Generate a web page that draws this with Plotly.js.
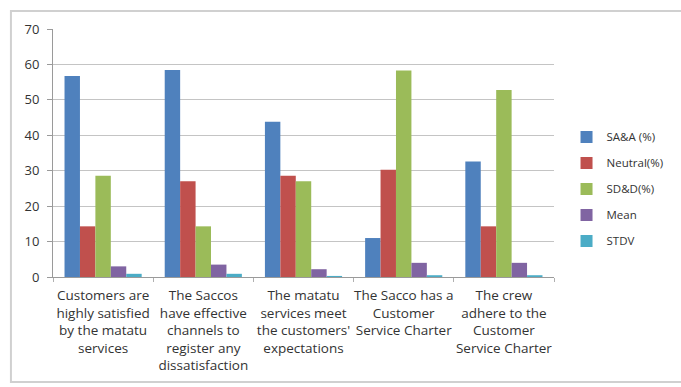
<!DOCTYPE html>
<html>
<head>
<meta charset="utf-8">
<script src="https://cdn.plot.ly/plotly-3.0.1.min.js"></script>
<style>
html,body{margin:0;padding:0;background:#fff;}
#chart{width:681px;height:387px;}
</style>
</head>
<body>
<div id="chart"></div>
<script>
const categories = [
  "Customers are<br>highly satisfied<br>by the matatu<br>services",
  "The Saccos<br>have effective<br>channels to<br>register any<br>dissatisfaction",
  "The matatu<br>services meet<br>the customers'<br>expectations",
  "The Sacco has a<br>Customer<br>Service Charter",
  "The crew<br>adhere to the<br>Customer<br>Service Charter"
];
const seriesNames = ["SA&A (%)", "Neutral(%)", "SD&D(%)", "Mean", "STDV"];
const saa = [56.7, 58.4, 43.8, 11.0, 32.6];
const neutral = [14.3, 27.0, 28.6, 30.3, 14.3];
const sdd = [28.6, 14.3, 27.0, 58.3, 52.8];
const mean = [3.0, 3.5, 2.2, 4.0, 4.0];
const stdv = [0.9, 0.9, 0.3, 0.5, 0.5];
const yTicks = [0, 10, 20, 30, 40, 50, 60, 70];

const colors = ["#4F81BD", "#C0504D", "#9BBB59", "#8064A2", "#4BACC6"];
const allSeries = [saa, neutral, sdd, mean, stdv];

const traces = allSeries.map((vals, i) => ({
  type: "bar",
  name: seriesNames[i],
  legendgroup: "g" + i,
  x: categories,
  y: vals,
  marker: {color: colors[i]},
  hoverinfo: "y+name"
}));

const layout = {
  width: 681,
  height: 387,
  margin: {l: 53, r: 116, t: 29, b: 110, pad: 0},
  paper_bgcolor: "#ffffff",
  plot_bgcolor: "#ffffff",
  barmode: "group",
  bargap: 0.23,
  bargroupgap: 0,
  font: {family: "Open Sans, Noto Sans, sans-serif", size: 12, color: "#333"},
  showlegend: true,
  legend: {
    x: 1.025, y: 0.355, xanchor: "left", yanchor: "middle",
    font: {size: 11.5, color: "#333"},
    traceorder: "grouped",
    tracegroupgap: 7,
    itemwidth: 30,
    bgcolor: "rgba(0,0,0,0)"
  },
  xaxis: {
    type: "category",
    showline: true,
    linecolor: "#9a9a9a",
    linewidth: 1,
    ticks: "outside",
    tickson: "boundaries",
    ticklen: 4,
    tickcolor: "#b0b0b0",
    ticklabelstandoff: 6,
    tickangle: 0,
    showgrid: false,
    tickfont: {size: 13.5, color: "#333"},
    automargin: false
  },
  yaxis: {
    range: [0, 70],
    tickvals: yTicks,
    ticktext: yTicks.map(String),
    showline: true,
    linecolor: "#9a9a9a",
    linewidth: 1,
    ticks: "outside",
    ticklen: 5,
    tickcolor: "#9a9a9a",
    ticklabelstandoff: 5,
    showgrid: true,
    gridcolor: "#c4c4c4",
    gridwidth: 1,
    zeroline: false,
    tickfont: {size: 13, color: "#333"},
    automargin: false
  },
  shapes: [
    {type: "rect", xref: "paper", yref: "paper",
     x0: (10 - 53) / 512, x1: (700 - 53) / 512,
     y0: (277 - 382) / 248, y1: (277 - 11) / 248,
     line: {color: "#d0d0d0", width: 2}, fillcolor: "rgba(0,0,0,0)", layer: "below"}
  ]
};

Plotly.newPlot("chart", traces, layout, {displayModeBar: false, staticPlot: true});
</script>
</body>
</html>
